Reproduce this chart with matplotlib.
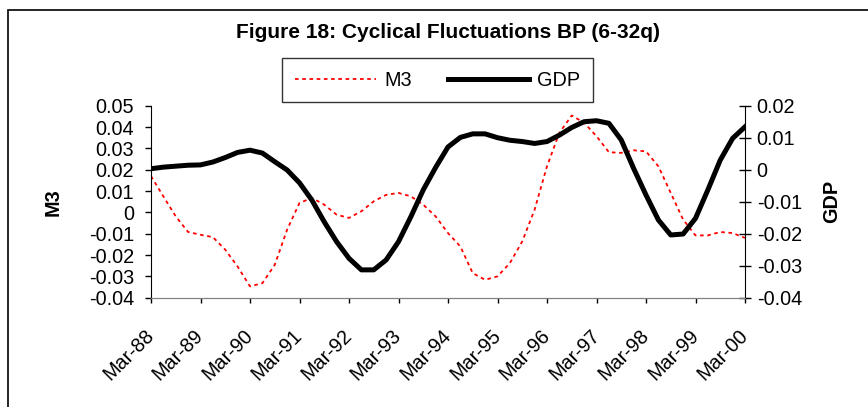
import matplotlib.pyplot as plt
import matplotlib.patches as mpatches
import matplotlib.transforms as mtransforms

plt.rcParams['font.family'] = ['Liberation Sans', 'DejaVu Sans']

# quarterly, Mar-88 .. Mar-00
quarters = list(range(49))
year_labels = ['Mar-88', 'Mar-89', 'Mar-90', 'Mar-91', 'Mar-92', 'Mar-93', 'Mar-94',
               'Mar-95', 'Mar-96', 'Mar-97', 'Mar-98', 'Mar-99', 'Mar-00']

m3 = [0.0170, 0.0075, -0.0019, -0.0092, -0.0105, -0.0116, -0.0175, -0.0254, -0.0347,
      -0.0332, -0.0246, -0.0081, 0.0044, 0.0068, 0.0036, -0.0011, -0.0026, 0.0005,
      0.0052, 0.0082, 0.0091, 0.0075, 0.0036, -0.0019, -0.0097, -0.0160, -0.0285,
      -0.0316, -0.0300, -0.0238, -0.0136, 0.0013, 0.0216, 0.0373, 0.0454, 0.0420,
      0.0357, 0.0282, 0.0279, 0.0291, 0.0286, 0.0216, 0.0091, -0.0034, -0.0108,
      -0.0108, -0.0092, -0.0097, -0.0120]

gdp = [0.0003, 0.0008, 0.0011, 0.0014, 0.0015, 0.0024, 0.0038, 0.0054, 0.0061,
       0.0052, 0.0025, -0.0001, -0.0041, -0.0095, -0.0163, -0.0225, -0.0277, -0.0313,
       -0.0313, -0.0282, -0.0225, -0.0147, -0.0063, 0.0007, 0.0071, 0.0101, 0.0112,
       0.0112, 0.0100, 0.0092, 0.0088, 0.0082, 0.0088, 0.0108, 0.0132, 0.0150,
       0.0153, 0.0145, 0.0093, 0.0004, -0.0079, -0.0157, -0.0204, -0.0201, -0.0152,
       -0.0063, 0.0030, 0.0098, 0.0134]

fig = plt.figure(figsize=(8.68, 4.07), dpi=100)
# outer chart frame
fig.patches.append(mpatches.Rectangle((8 / 868, -0.05), 1.1, 1 - 10 / 407 + 0.05,
                                      transform=fig.transFigure, fill=False,
                                      edgecolor='black', linewidth=1.2))

ax = fig.add_axes([151 / 868, 1 - 297.7 / 407, (745 - 151) / 868, (297.7 - 105.7) / 407])
ax2 = ax.twinx()

l1, = ax.plot(quarters, m3, color='red', linestyle=(0, (2, 2)), linewidth=1.3, label='M3')
l2, = ax2.plot(quarters, gdp, color='black', linewidth=3.6, label='GDP')

fs = 14.3
ax.set_xlim(0, 48)
ax.set_ylim(-0.04, 0.05)
ax.set_yticks([i / 100 for i in range(-4, 6)])
ax.set_yticklabels(['-0.04', '-0.03', '-0.02', '-0.01', '0', '0.01', '0.02', '0.03', '0.04', '0.05'],
                   fontsize=fs)
ax2.set_ylim(-0.04, 0.02)
ax2.set_yticks([i / 100 for i in range(-4, 3)])
ax2.set_yticklabels(['-0.04', '-0.03', '-0.02', '-0.01', '0', '0.01', '0.02'], fontsize=fs)

ax.set_xticks(quarters[::4])
ax.set_xticklabels(year_labels, rotation=45, ha='right', va='center', rotation_mode='anchor',
                   fontsize=14.3)
shift = mtransforms.ScaledTranslation(-0.19, 0, fig.dpi_scale_trans)
for lab in ax.get_xticklabels():
    lab.set_transform(lab.get_transform() + shift)

for a in (ax, ax2):
    a.spines['top'].set_visible(False)
    a.spines['bottom'].set_color('#808080')
ax.spines['right'].set_visible(False)
ax2.spines['left'].set_visible(False)
ax.tick_params(axis='y', direction='out', length=4.3, width=1, pad=8)
ax.tick_params(axis='x', direction='out', length=3.6, width=1, color='black', pad=21.5)
ax2.tick_params(axis='y', direction='inout', length=8.9, width=1, pad=4)

ax.set_ylabel('M3', fontsize=fs, fontweight='bold')
ax.yaxis.set_label_coords(-0.148, 0.5)
ax2.set_ylabel('GDP', fontsize=fs, fontweight='bold')
ax2.yaxis.set_label_coords(1.1296, 0.5)

fig.text(448.5 / 868, 1 - 33 / 407, 'Figure 18: Cyclical Fluctuations BP (6-32q)',
         ha='center', va='center', fontsize=15, fontweight='bold')

leg = fig.legend([l1, l2], ['M3', 'GDP'], loc='center', ncol=2,
                 bbox_to_anchor=(437.5 / 868, 1 - 80 / 407), fontsize=fs, frameon=True,
                 fancybox=False, edgecolor='black', handlelength=4.1, handletextpad=0.4,
                 columnspacing=1.8, borderpad=0.65, borderaxespad=0)
leg.get_frame().set_linewidth(1.0)

fig.savefig('out.png', dpi=100)
